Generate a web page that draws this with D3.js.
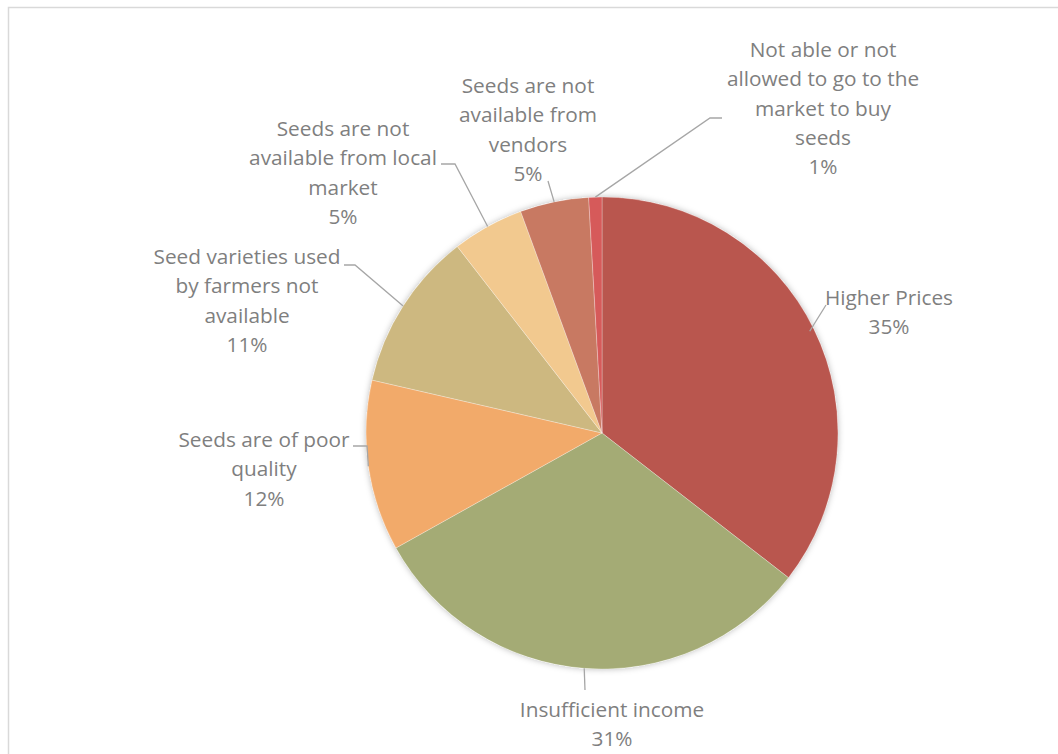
<!DOCTYPE html>
<html><head><meta charset="utf-8">
<script src="https://cdn.jsdelivr.net/npm/d3@7"></script>
<style>body{margin:0;background:#fff}svg{display:block}</style>
</head><body>
<script>
// ---- data ----
const categories = [
  "Higher Prices",
  "Insufficient income",
  "Seeds are of poor quality",
  "Seed varieties used by farmers not available",
  "Seeds are not available from local market",
  "Seeds are not available from vendors",
  "Not able or not allowed to go to the market to buy seeds"
];
const values = [35.5, 31.4, 11.7, 10.9, 4.9, 4.7, 0.9];
const pctLabels = ["35%", "31%", "12%", "11%", "5%", "5%", "1%"];
const labelLines = [
  ["Higher Prices"],
  ["Insufficient income"],
  ["Seeds are of poor", "quality"],
  ["Seed varieties used", "by farmers not", "available"],
  ["Seeds are not", "available from local", "market"],
  ["Seeds are not", "available from", "vendors"],
  ["Not able or not", "allowed to go to the", "market to buy", "seeds"]
];
const colors = ["#B9564E", "#A4AB75", "#F2AA6A", "#CDB880", "#F2C98F", "#C87962", "#D65A5A"];

// ---- layout ----
const W = 1058, H = 754;
const cx = 602, cy = 433, R = 236;
const lineH = 29.3;
// label block: center x, first baseline y; leader: elbow point and end point
const layout = [
  {x: 889, y: 305, elbow: [826, 305], end: [826, 305]},
  {x: 612, y: 717, elbow: [585, 690], end: [585, 690]},
  {x: 264, y: 447, elbow: [367, 446], end: [353, 446]},
  {x: 247, y: 264, elbow: [355, 265], end: [344, 265]},
  {x: 343, y: 136, elbow: [455, 164], end: [441, 164]},
  {x: 528, y: 93, elbow: [548, 181], end: [548, 181]},
  {x: 823, y: 57, elbow: [710, 118], end: [722, 118]}
];

const svg = d3.select("body").append("svg").attr("width", W).attr("height", H);

// frame
svg.append("rect").attr("x", 8.5).attr("y", 7.5).attr("width", W + 10).attr("height", H + 10)
  .attr("fill", "#fff").attr("stroke", "#D9D9D9").attr("stroke-width", 1.5);

const defs = svg.append("defs");
const f = defs.append("filter").attr("id", "sh").attr("x", "-10%").attr("y", "-10%").attr("width", "120%").attr("height", "120%");
f.append("feDropShadow").attr("dx", 0).attr("dy", 0).attr("stdDeviation", 3).attr("flood-color", "#000").attr("flood-opacity", 0.28);

const pie = d3.pie().sort(null).value(d => d)(values);
const arc = d3.arc().innerRadius(0).outerRadius(R);

const g = svg.append("g").attr("transform", `translate(${cx},${cy})`);
g.append("circle").attr("r", R).attr("fill", "#fff").attr("filter", "url(#sh)");
g.selectAll("path.slice").data(pie).join("path").attr("class", "slice")
  .attr("d", arc).attr("fill", (d, i) => colors[i])
  .attr("stroke", "#fff").attr("stroke-opacity", 0.35).attr("stroke-width", 0.8);

// leader lines
const edgeArc = d3.arc().innerRadius(R).outerRadius(R);
pie.forEach((d, i) => {
  const L = layout[i];
  const c = edgeArc.centroid(d);
  const p0 = [cx + c[0], cy + c[1]];
  let pts;
  if (i === 0) pts = [[cx + c[0] * 0.98, cy + c[1] * 0.98], L.end];
  else pts = [p0, L.elbow, L.end];
  svg.append("path").attr("d", d3.line()(pts)).attr("fill", "none")
    .attr("stroke", "#A6A6A6").attr("stroke-width", 1.3);
});

// labels
const font = "'Open Sans', 'Noto Sans', sans-serif";
labelLines.forEach((lines, i) => {
  const L = layout[i];
  const t = svg.append("text").attr("text-anchor", "middle")
    .attr("font-family", font).attr("font-size", 20.8).attr("fill", "#7F7F7F");
  lines.concat([pctLabels[i]]).forEach((s, k) => {
    t.append("tspan").attr("x", L.x).attr("y", L.y + k * lineH).text(s);
  });
});
</script>
</body></html>
